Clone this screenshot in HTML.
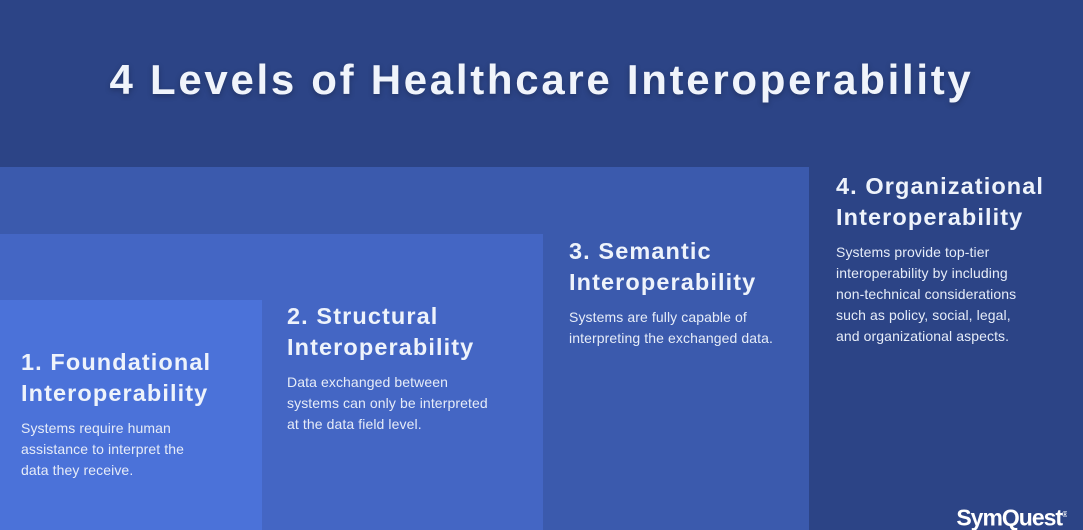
<!DOCTYPE html>
<html><head><style>
*{margin:0;padding:0;box-sizing:border-box}
html,body{width:1083px;height:530px;overflow:hidden}
body{background:#2c4486;font-family:"Liberation Sans",sans-serif;position:relative;color:#eef3fb}
.r{position:absolute;left:0;bottom:0}
h1{position:absolute;top:56px;left:0;width:1083px;text-align:center;font-size:42px;font-weight:bold;letter-spacing:2.7px;color:#f0f4fb;text-shadow:0 2px 6px rgba(0,0,0,.25)}
.b{position:absolute}
.b h2{font-size:23.5px;line-height:30.5px;font-weight:bold;letter-spacing:1.1px}
.b p{font-size:14px;line-height:21px;margin-top:10px;color:#e6ecf8;letter-spacing:0.1px}
.logo{position:absolute;right:16px;top:502px;height:28px;overflow:hidden;font-size:23px;line-height:26px;font-weight:bold;letter-spacing:-1px;color:#fff}
</style></head><body>
<h1>4 Levels of Healthcare Interoperability</h1>
<div class="r" style="width:809px;height:363px;background:#3b5aad"></div>
<div class="r" style="width:543px;height:296px;background:#4466c4"></div>
<div class="r" style="width:262px;height:230px;background:#4b72d9"></div>
<div class="b" style="left:21px;top:347px"><h2>1. Foundational<br>Interoperability</h2><p>Systems require human<br>assistance to interpret the<br>data they receive.</p></div>
<div class="b" style="left:287px;top:301px"><h2>2. Structural<br>Interoperability</h2><p>Data exchanged between<br>systems can only be interpreted<br>at the data field level.</p></div>
<div class="b" style="left:569px;top:236px"><h2>3. Semantic<br>Interoperability</h2><p>Systems are fully capable of<br>interpreting the exchanged data.</p></div>
<div class="b" style="left:836px;top:171px"><h2>4. Organizational<br>Interoperability</h2><p>Systems provide top-tier<br>interoperability by including<br>non-technical considerations<br>such as policy, social, legal,<br>and organizational aspects.</p></div>
<div class="logo">SymQuest<sup style="font-size:8px">®</sup></div>
</body></html>
